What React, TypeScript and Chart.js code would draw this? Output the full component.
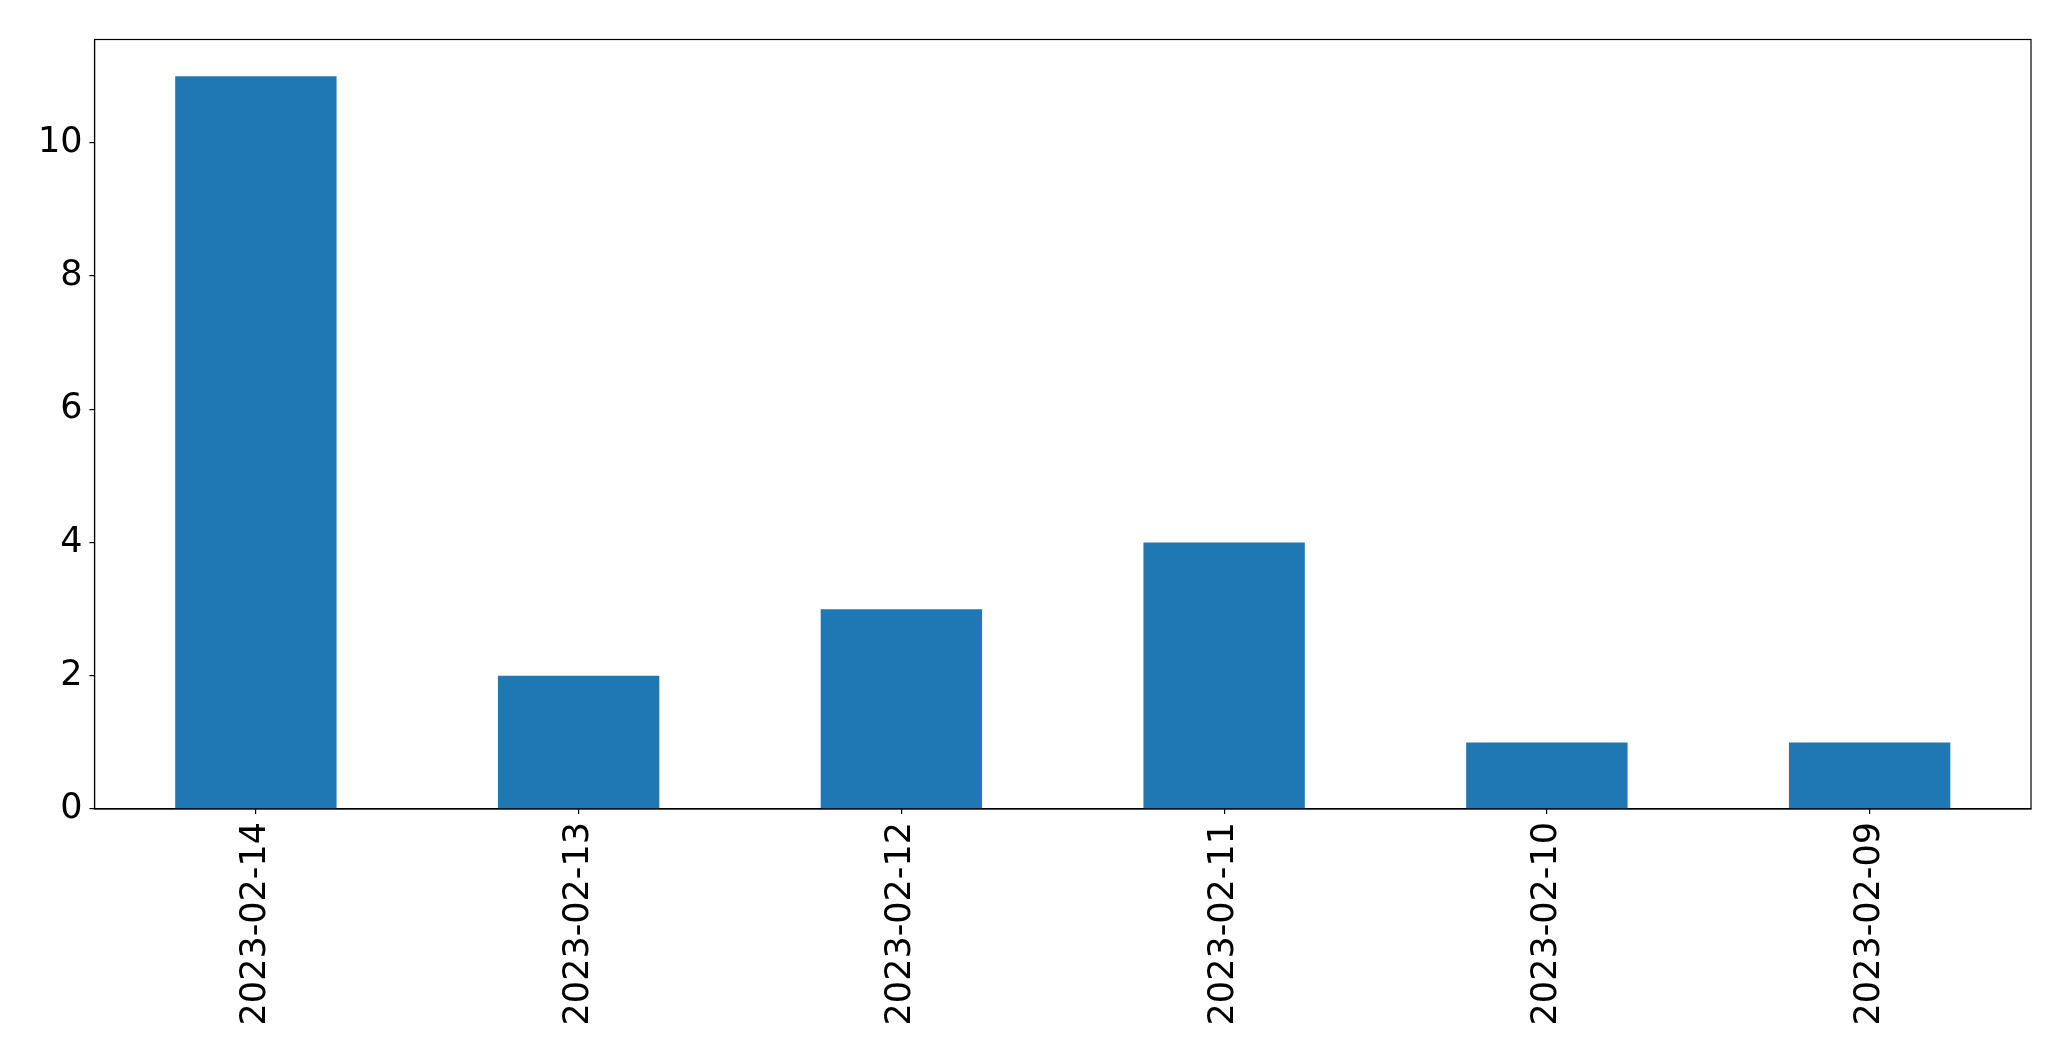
import React, { useEffect, useRef } from "react";
import { Chart, registerables } from "chart.js";

Chart.register(...registerables);

const categories = ["2023-02-14", "2023-02-13", "2023-02-12", "2023-02-11", "2023-02-10", "2023-02-09"];
const counts = [11, 2, 3, 4, 1, 1];
const yTicks = [0, 2, 4, 6, 8, 10];

const W = 2071;
const H = 1061;

const framePlugin = {
  id: "frame",
  afterDraw(chart: any) {
    const { ctx, chartArea } = chart;
    ctx.save();
    ctx.strokeStyle = "#000";
    ctx.lineWidth = 1.2;
    ctx.strokeRect(chartArea.left, chartArea.top, chartArea.right - chartArea.left, chartArea.bottom - chartArea.top);
    ctx.restore();
  },
};

export default function App() {
  const ref = useRef<HTMLCanvasElement | null>(null);
  useEffect(() => {
    if (!ref.current) return;
    const font = { family: "'DejaVu Sans', sans-serif", size: 35 };
    const chart = new Chart(ref.current, {
      type: "bar",
      data: {
        labels: categories,
        datasets: [
          {
            data: counts,
            backgroundColor: "#1f77b4",
            borderWidth: 0,
            categoryPercentage: 1,
            barPercentage: 0.5,
          },
        ],
      },
      options: {
        responsive: false,
        animation: false,
        devicePixelRatio: 1,
        layout: { padding: { left: 0, top: 39.5, right: 40, bottom: 0 } },
        plugins: { legend: { display: false }, tooltip: { enabled: false } },
        scales: {
          x: {
            grid: { display: true, drawOnChartArea: false, drawTicks: true, tickLength: 5, color: "#000", offset: false, lineWidth: 1.2 },
            border: { display: true, color: "#000", width: 1.2 },
            ticks: { color: "#000", font, maxRotation: 90, minRotation: 90, padding: 8, autoSkip: false },
            afterFit: (s: any) => { s.height = H - 809; },
          },
          y: {
            min: 0,
            max: 11.55,
            grid: { display: true, drawOnChartArea: false, drawTicks: true, tickLength: 5, color: "#000", lineWidth: 1.2 },
            border: { display: true, color: "#000", width: 1.2 },
            ticks: { color: "#000", font, padding: 7 },
            afterBuildTicks: (s: any) => { s.ticks = yTicks.map((v) => ({ value: v })); },
            afterFit: (s: any) => { s.width = 94.5; },
          },
        },
      },
      plugins: [framePlugin],
    });
    return () => chart.destroy();
  }, []);
  return (
    <div style={{ position: "fixed", left: 0, top: 0, width: W, height: H, background: "#fff" }}>
      <canvas ref={ref} width={W} height={H} style={{ width: W, height: H, display: "block" }} />
    </div>
  );
}
